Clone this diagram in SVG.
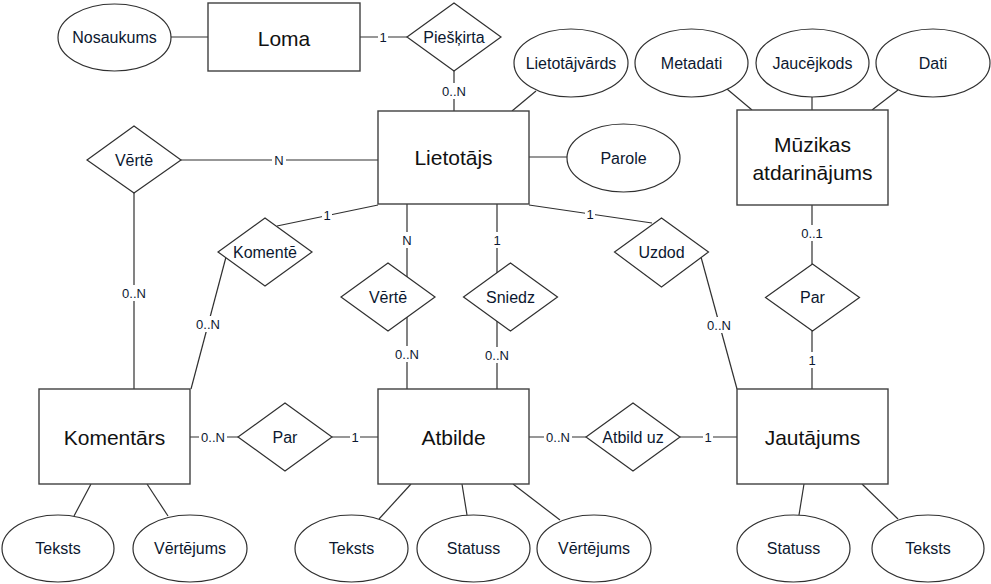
<svg xmlns="http://www.w3.org/2000/svg" width="991" height="584" viewBox="0 0 991 584">
<style>
.ent{fill:#fff;stroke:#404040;stroke-width:1.4}
.rel{fill:#fff;stroke:#303030;stroke-width:1.2}
.att{fill:#fff;stroke:#303030;stroke-width:1.2}
.ln{stroke:#303030;stroke-width:1.2;fill:none}
.et{font-family:"Liberation Sans",Arial,sans-serif;font-size:21px;fill:#111;text-anchor:middle;dominant-baseline:central}
.t{font-family:"Liberation Sans",Arial,sans-serif;font-size:16px;fill:#0c1830;text-anchor:middle;dominant-baseline:central}
.c{font-family:"Liberation Sans",Arial,sans-serif;font-size:13px;fill:#0c1830;text-anchor:middle;dominant-baseline:central}
.bg{fill:#fff}
</style>
<g id="connectors">
<line class="ln" x1="171" y1="37" x2="208" y2="37"/>
<line class="ln" x1="360" y1="37" x2="407" y2="37"/>
<line class="ln" x1="454" y1="71" x2="454" y2="111"/>
<line class="ln" x1="536" y1="91" x2="512" y2="111"/>
<line class="ln" x1="529" y1="157" x2="567" y2="157"/>
<line class="ln" x1="727" y1="89" x2="752" y2="110"/>
<line class="ln" x1="812" y1="97" x2="812" y2="110"/>
<line class="ln" x1="898" y1="90" x2="872" y2="110"/>
<line class="ln" x1="181" y1="160" x2="378" y2="160"/>
<line class="ln" x1="134" y1="193" x2="134" y2="389"/>
<line class="ln" x1="277" y1="226" x2="378" y2="205"/>
<line class="ln" x1="226" y1="257" x2="191" y2="389"/>
<line class="ln" x1="407" y1="204" x2="407" y2="277"/>
<line class="ln" x1="407" y1="317" x2="407" y2="389"/>
<line class="ln" x1="497" y1="204" x2="497" y2="273"/>
<line class="ln" x1="497" y1="321" x2="497" y2="389"/>
<line class="ln" x1="529" y1="205" x2="652" y2="223"/>
<line class="ln" x1="701" y1="257" x2="737" y2="389"/>
<line class="ln" x1="812" y1="205" x2="812" y2="264"/>
<line class="ln" x1="812" y1="331" x2="812" y2="389"/>
<line class="ln" x1="190" y1="437" x2="238" y2="437"/>
<line class="ln" x1="332" y1="437" x2="378" y2="437"/>
<line class="ln" x1="529" y1="437" x2="586" y2="437"/>
<line class="ln" x1="680" y1="437" x2="737" y2="437"/>
<line class="ln" x1="91" y1="484" x2="74" y2="516"/>
<line class="ln" x1="147" y1="484" x2="168" y2="516"/>
<line class="ln" x1="411" y1="484" x2="379" y2="519"/>
<line class="ln" x1="462" y1="484" x2="467" y2="515"/>
<line class="ln" x1="513" y1="484" x2="560" y2="520"/>
<line class="ln" x1="804" y1="484" x2="799" y2="515"/>
<line class="ln" x1="862" y1="484" x2="898" y2="519"/>
<g id="cardinalities">
<rect class="bg" x="378" y="29" width="10" height="16"/><text class="c" x="383" y="37">1</text>
<rect class="bg" x="440" y="83" width="28" height="16"/><text class="c" x="454" y="91">0..N</text>
<rect class="bg" x="272" y="152" width="14" height="16"/><text class="c" x="279" y="160">N</text>
<rect class="bg" x="120" y="285" width="28" height="16"/><text class="c" x="134" y="293">0..N</text>
<rect class="bg" x="322" y="207" width="10" height="16"/><text class="c" x="327" y="215">1</text>
<rect class="bg" x="194" y="316" width="28" height="16"/><text class="c" x="208" y="324">0..N</text>
<rect class="bg" x="400" y="232" width="14" height="16"/><text class="c" x="407" y="240">N</text>
<rect class="bg" x="393" y="346" width="28" height="16"/><text class="c" x="407" y="354">0..N</text>
<rect class="bg" x="492" y="232" width="10" height="16"/><text class="c" x="497" y="240">1</text>
<rect class="bg" x="483" y="347" width="28" height="16"/><text class="c" x="497" y="355">0..N</text>
<rect class="bg" x="585" y="206" width="10" height="16"/><text class="c" x="590" y="214">1</text>
<rect class="bg" x="705" y="317" width="28" height="16"/><text class="c" x="719" y="325">0..N</text>
<rect class="bg" x="798" y="225" width="28" height="16"/><text class="c" x="812" y="233">0..1</text>
<rect class="bg" x="807" y="352" width="10" height="16"/><text class="c" x="812" y="360">1</text>
<rect class="bg" x="199" y="429" width="28" height="16"/><text class="c" x="213" y="437">0..N</text>
<rect class="bg" x="350" y="429" width="10" height="16"/><text class="c" x="355" y="437">1</text>
<rect class="bg" x="544" y="429" width="28" height="16"/><text class="c" x="558" y="437">0..N</text>
<rect class="bg" x="703" y="429" width="10" height="16"/><text class="c" x="708" y="437">1</text>
</g>
</g>
<g id="loma"><rect class="ent" x="208" y="3" width="152" height="68"/><text class="et" x="284" y="38">Loma</text></g>
<g id="nosaukums"><ellipse class="att" cx="114.5" cy="37.5" rx="56.5" ry="33.5"/><text class="t" x="114.5" y="37.5">Nosaukums</text></g>
<g id="pieskirta"><polygon class="rel" points="454,3 501,37 454,71 407,37"/><text class="t" x="454" y="37">Piešķirta</text></g>
<g id="lietotajs"><rect class="ent" x="378" y="111" width="151" height="93"/><text class="et" x="453.5" y="157">Lietotājs</text></g>
<g id="lietotajvards"><ellipse class="att" cx="571" cy="63" rx="57" ry="34"/><text class="t" x="571" y="63">Lietotājvārds</text></g>
<g id="parole"><ellipse class="att" cx="623.5" cy="158" rx="56.5" ry="34"/><text class="t" x="623.5" y="158">Parole</text></g>
<g id="metadati"><ellipse class="att" cx="691.5" cy="63" rx="56.5" ry="34"/><text class="t" x="691.5" y="63">Metadati</text></g>
<g id="jaucejkods"><ellipse class="att" cx="812.5" cy="63" rx="56.5" ry="34"/><text class="t" x="812.5" y="63">Jaucējkods</text></g>
<g id="dati"><ellipse class="att" cx="933" cy="63" rx="57" ry="34"/><text class="t" x="933" y="63">Dati</text></g>
<g id="muzikas"><rect class="ent" x="737" y="110" width="151" height="95"/><text class="et" x="812.5" y="144">Mūzikas</text><text class="et" x="812.5" y="172">atdarinājums</text></g>
<g id="verte1"><polygon class="rel" points="134,126 181,160 134,193 87,160"/><text class="t" x="134" y="160">Vērtē</text></g>
<g id="komente"><polygon class="rel" points="265,218 312,252 265,286 218,252"/><text class="t" x="265" y="252">Komentē</text></g>
<g id="verte2"><polygon class="rel" points="388,263 435,297 388,331 341,297"/><text class="t" x="388" y="297">Vērtē</text></g>
<g id="sniedz"><polygon class="rel" points="510.5,263 557.5,297 510.5,331 463.5,297"/><text class="t" x="510.5" y="297">Sniedz</text></g>
<g id="uzdod"><polygon class="rel" points="661.5,218 708.5,252 661.5,287 614.5,252"/><text class="t" x="661.5" y="252">Uzdod</text></g>
<g id="par2"><polygon class="rel" points="812.5,264 859.5,297.5 812.5,331 765.5,297.5"/><text class="t" x="812.5" y="297.5">Par</text></g>
<g id="komentars"><rect class="ent" x="39" y="389" width="151" height="95"/><text class="et" x="114.5" y="437">Komentārs</text></g>
<g id="par1"><polygon class="rel" points="285,403 332,437 285,471 238,437"/><text class="t" x="285" y="437">Par</text></g>
<g id="atbilde"><rect class="ent" x="378" y="389" width="151" height="95"/><text class="et" x="453.5" y="437">Atbilde</text></g>
<g id="atbilduz"><polygon class="rel" points="633,403 680,437 633,471 586,437"/><text class="t" x="633" y="437">Atbild uz</text></g>
<g id="jautajums"><rect class="ent" x="737" y="389" width="151" height="95"/><text class="et" x="812.5" y="437">Jautājums</text></g>
<g id="k_teksts"><ellipse class="att" cx="58" cy="548.5" rx="56" ry="33.5"/><text class="t" x="58" y="548.5">Teksts</text></g>
<g id="k_vertejums"><ellipse class="att" cx="190" cy="548.5" rx="57" ry="33.5"/><text class="t" x="190" y="548.5">Vērtējums</text></g>
<g id="a_teksts"><ellipse class="att" cx="351.5" cy="548.5" rx="56.5" ry="33.5"/><text class="t" x="351.5" y="548.5">Teksts</text></g>
<g id="a_statuss"><ellipse class="att" cx="473.5" cy="548.5" rx="56.5" ry="33.5"/><text class="t" x="473.5" y="548.5">Statuss</text></g>
<g id="a_vertejums"><ellipse class="att" cx="594" cy="548.5" rx="57" ry="33.5"/><text class="t" x="594" y="548.5">Vērtējums</text></g>
<g id="j_statuss"><ellipse class="att" cx="793.5" cy="548.5" rx="56.5" ry="33.5"/><text class="t" x="793.5" y="548.5">Statuss</text></g>
<g id="j_teksts"><ellipse class="att" cx="928" cy="548.5" rx="56" ry="33.5"/><text class="t" x="928" y="548.5">Teksts</text></g>
</svg>
